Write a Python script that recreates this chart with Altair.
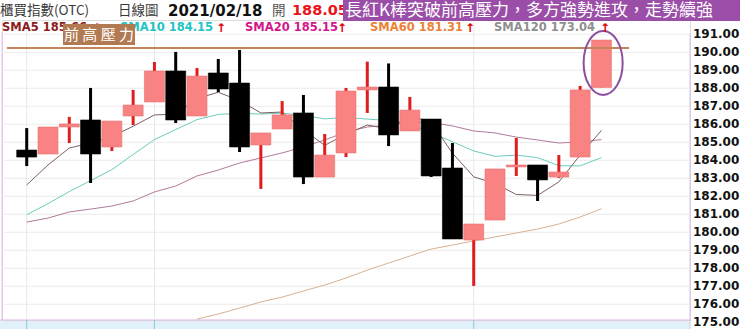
import altair as alt
import pandas as pd

# ---------------- data ----------------
opens = [184.57, 184.35, 185.85, 186.24, 184.74, 186.46, 187.24, 188.96, 186.46, 188.85,
         188.29, 184.85, 185.74, 186.63, 183.07, 184.41, 187.91, 188.07, 185.63, 186.29,
         183.57, 179.57, 180.68, 183.63, 183.74, 183.07, 184.18, 188.05]
highs = [185.79, 185.85, 186.41, 188.02, 186.18, 187.91, 189.46, 190.02, 189.13, 189.63,
         190.13, 185.52, 187.29, 187.63, 185.46, 188.02, 189.48, 189.38, 187.52, 186.29,
         184.96, 180.46, 183.52, 185.24, 183.74, 184.29, 188.13, 190.68]
lows = [183.68, 184.35, 184.96, 182.74, 184.52, 185.96, 187.24, 186.07, 186.46, 187.79,
        184.46, 182.41, 185.74, 182.68, 183.07, 184.18, 186.63, 184.79, 185.63, 183.07,
        179.63, 177.02, 180.68, 183.13, 181.74, 183.02, 184.18, 188.05]
closes = [184.18, 185.85, 186.02, 184.35, 186.18, 187.07, 188.96, 186.24, 188.68, 187.96,
          184.74, 185.52, 186.52, 183.07, 184.29, 187.85, 188.07, 185.41, 186.79, 183.13,
          179.63, 180.46, 183.52, 183.74, 182.91, 183.35, 187.91, 190.68]

sma5 = [182.63, 183.74, 184.68, 184.96, 185.32, 185.89, 186.52, 186.56, 187.43, 187.78,
        187.32, 186.63, 186.68, 185.70, 184.83, 185.45, 185.96, 185.74, 186.48, 186.10,
        184.40, 183.08, 182.71, 182.10, 182.05, 182.80, 184.29, 185.66]
sma10 = [180.98, 181.59, 182.26, 182.87, 183.48, 184.32, 185.15, 185.71, 186.26, 186.55,
         186.61, 186.57, 186.62, 186.49, 186.30, 186.38, 186.29, 186.21, 186.02, 185.54,
         185.03, 184.52, 184.22, 184.29, 184.15, 183.70, 183.69, 184.15]
sma20 = [180.57, 180.79, 181.13, 181.29, 181.46, 181.74, 182.24, 182.57, 183.13, 183.46,
         183.85, 184.13, 184.41, 184.74, 185.13, 185.57, 185.85, 185.96, 186.13, 186.10,
         185.91, 185.63, 185.52, 185.29, 185.13, 184.96, 185.02, 185.15]
sma60 = [None] * 8 + [175.18, 175.46, 175.79, 176.13, 176.40, 176.74, 177.07, 177.46,
                      177.90, 178.29, 178.68, 179.07, 179.29, 179.52, 179.74, 179.96,
                      180.18, 180.46, 180.85, 181.31]

y_ticks = list(range(175, 192))
month_lines = [0, 6, 21]
resistance_level = 190.24
resistance_start = -0.93
resistance_end = 28.3

sma_names = ["SMA5", "SMA10", "SMA20", "SMA60", "SMA120"]
sma_last = [185.66, 184.15, 185.15, 181.31, 173.04]
sma_text_colors = ["#8e1b1b", "#22c4c4", "#d4168c", "#ec8236", "#8f8f8f"]
sma_text_x = [0, 118, 243, 368, 492]
sma_arrow_x = [95, 219, 340, 468, 603]

title_index = "櫃買指數(OTC)"
title_kind = "日線圖"
title_date = "2021/02/18"
title_open_lbl = "開"
title_open_val = "188.05"
banner_text = "長紅K棒突破前高壓力，多方強勢進攻，走勢續強"
resist_label = "前 高 壓 力"

# ---------------- layout ----------------
W, H = 688, 300
x_scale = alt.Scale(domain=[-20 / 21.6, (688 - 20) / 21.6], nice=False, zero=False)
y_scale = alt.Scale(domain=[175.128, 191.794], nice=False, zero=False)

n = len(opens)
idx = list(range(n))
cdf = pd.DataFrame({"i": idx, "open": opens, "high": highs, "low": lows, "close": closes})
cdf["up"] = cdf["close"] >= cdf["open"]
cdf["blo"] = cdf[["open", "close"]].min(axis=1)
cdf["bhi"] = cdf[["open", "close"]].max(axis=1)

RED = "#e01c1c"
PINK = "#f98282"
one = pd.DataFrame({"a": [0]})

X = alt.X("i:Q", scale=x_scale, axis=None)


def Yq(field):
    return alt.Y(field, scale=y_scale, axis=None)


tick_df = pd.DataFrame({"t": y_ticks})
hgrid = alt.Chart(tick_df).mark_rule(color="#ececec", strokeWidth=1).encode(
    x=alt.value(0), x2=alt.value(688), y=Yq("t:Q"))
ylabels = alt.Chart(tick_df).mark_text(
    align="left", baseline="middle", font="DejaVu Sans", fontWeight="bold",
    fontSize=12, color="#111111").encode(
    x=alt.value(691), y=Yq("t:Q"), text=alt.Text("t:Q", format=".2f"))

wicks = alt.Chart(cdf).mark_rule(strokeWidth=3).encode(
    x=X, y=Yq("low:Q"), y2="high:Q",
    color=alt.condition("datum.up", alt.value(RED), alt.value("#000000")),
)

bodies = alt.Chart(cdf).mark_bar(size=20, strokeWidth=0.6).encode(
    x=X, y=Yq("blo:Q"), y2="bhi:Q",
    color=alt.condition("datum.up", alt.value(PINK), alt.value("#000000")),
    stroke=alt.condition("datum.up", alt.value("#e87272"), alt.value("#000000")),
)


def sma_layer(vals, color):
    df = pd.DataFrame({"i": idx, "v": vals}).dropna()
    return alt.Chart(df).mark_line(strokeWidth=1, color=color).encode(x=X, y=Yq("v:Q"))


lines = [
    sma_layer(sma60, "#d6b292"),
    sma_layer(sma20, "#b47a9c"),
    sma_layer(sma10, "#6ccbbd"),
    sma_layer(sma5, "#806060"),
]

vgrid = alt.Chart(pd.DataFrame({"i": month_lines})).mark_rule(color="#e0eaea", strokeWidth=1).encode(
    x=X, y=alt.value(2), y2=alt.value(300))

btick = alt.Chart(pd.DataFrame({"i": month_lines})).mark_rule(color="#8cc6d6", strokeWidth=1).encode(
    x=X, y=alt.value(300), y2=alt.value(309))

resist = alt.Chart(pd.DataFrame({"lvl": [resistance_level], "xs": [resistance_start],
                                 "xe": [resistance_end]})).mark_rule(
    color="#c5845a", strokeWidth=2).encode(
    x=alt.X("xs:Q", scale=x_scale, axis=None), x2=alt.X2("xe:Q"), y=Yq("lvl:Q"))

ell_path = "M -0.61 0 A 0.61 1 0 1 1 0.61 0 A 0.61 1 0 1 1 -0.61 0 Z"
ellipse = alt.Chart(pd.DataFrame({"i": [27.08], "v": [189.41]})).mark_point(
    shape=ell_path, size=4096, filled=False, stroke="#8e4fa0", strokeWidth=2, opacity=1).encode(
    x=X, y=Yq("v:Q"))


def rect(x1, x2, y1, y2, color):
    return alt.Chart(one).mark_rect(color=color).encode(
        x=alt.value(x1), x2=alt.value(x2), y=alt.value(y1), y2=alt.value(y2))


def rule(x1, x2, y1, y2, color, w=1):
    return alt.Chart(one).mark_rule(color=color, strokeWidth=w).encode(
        x=alt.value(x1), x2=alt.value(x2), y=alt.value(y1), y2=alt.value(y2))


def txt(s, px, py, size, color, font="Noto Sans CJK TC", weight="normal", align="left"):
    return alt.Chart(one).mark_text(text=s, align=align, baseline="middle", fontSize=size,
                                    color=color, font=font, fontWeight=weight).encode(
        x=alt.value(px), y=alt.value(py))


deco = [
    rect(-2, 688, 300.5, 309, "#dff1fb"),
    rule(-2, 688, 300, 300, "#dcb4dc"),
    rule(0, 0, 12, 300, "#e2bfe2"),
    rule(688, 688, 13, 309, "#d6c0e6"),
]

header = [
    txt(title_index, -2, -9, 13.5, "#3a3a3a"),
    txt(title_kind, 116, -9, 13.5, "#3a3a3a"),
    txt(title_date, 166, -9, 15, "#111111", font="DejaVu Sans", weight="bold"),
    txt(title_open_lbl, 270, -9, 13.5, "#555555"),
    txt(title_open_val, 290, -9, 14.5, "#e8141a", font="DejaVu Sans", weight="bold"),
    rect(341, 738, -20, 1, "#9b4ea8"),
    txt(banner_text, 343, -9, 17, "#ffffff"),
]
for name, val, col, tx, ax in zip(sma_names, sma_last, sma_text_colors, sma_text_x, sma_arrow_x):
    header.append(txt(f"{name} {val:.2f}", tx, 7.5, 11.5, col, font="DejaVu Sans", weight="bold"))
    header.append(txt("↑", ax, 7.5, 12, "#e00000", font="DejaVu Sans", weight="bold", align="center"))
header += [
    rect(61, 133, 4, 25, "#b27a52"),
    txt(resist_label, 97, 14.5, 15, "#ffffff", align="center"),
]

chart = alt.layer(
    *deco, hgrid, vgrid, btick, *lines, wicks, bodies, resist, ellipse, ylabels, *header
).properties(
    width=W, height=H,
    autosize=alt.AutoSizeParams(type="none"),
    padding={"left": 2, "top": 20, "right": 50, "bottom": 9},
).configure_view(strokeWidth=0).configure(background="#ffffff")

chart.save("out.html", embed_options={"renderer": "svg", "actions": False})
